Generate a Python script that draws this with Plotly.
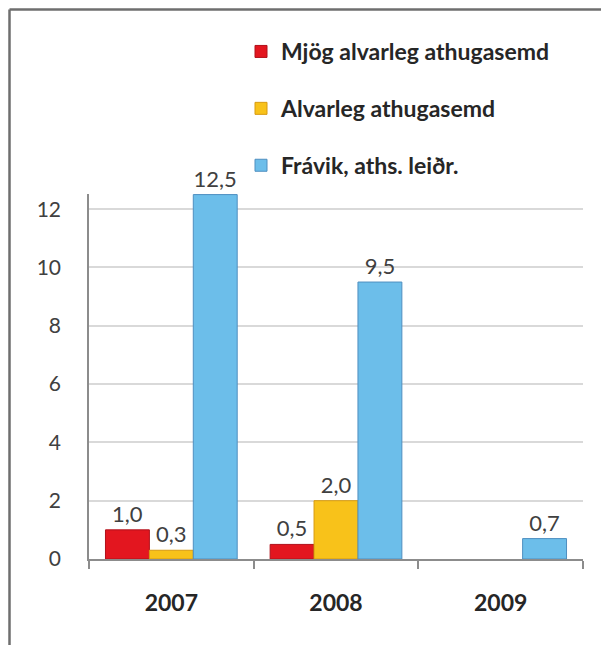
import plotly.graph_objects as go

years = ["2007", "2008", "2009"]
mjog = [1.0, 0.5, None]
alvarleg = [0.3, 2.0, None]
fravik = [12.5, 9.5, 0.7]
series_names = ["Mjög alvarleg athugasemd", "Alvarleg athugasemd", "Frávik, aths. leiðr."]
y_ticks = [0, 2, 4, 6, 8, 10, 12]

colors = ["#E3161F", "#F8C21A", "#6CBEEA"]
edges = ["#B0101A", "#D79A10", "#4F8FC0"]
FONT = "Lato"

fig = go.Figure()
for i, (name, vals) in enumerate(zip(series_names, [mjog, alvarleg, fravik])):
    fig.add_trace(go.Bar(
        x=years, y=vals, name=name, legendgroup=f"g{i}",
        marker=dict(color=colors[i], line=dict(color=edges[i], width=1)),
        text=[("" if v is None else f"{v:.1f}".replace(".", ",")) for v in vals],
        textposition="outside", cliponaxis=False,
        textfont=dict(family=FONT, size=22, color="#404040"),
    ))

# figure sits at (8,8) inside the page (body margin)
W, H = 601, 637
L, R, T, B = 81, 26, 186, 86
pw, ph = W - L - R, H - T - B

def px(xp):
    return (xp - L) / pw

def py(yp):
    return (H - B - yp) / ph

fig.update_layout(
    width=W, height=H,
    margin=dict(l=L, r=R, t=T, b=B, autoexpand=False),
    paper_bgcolor="white", plot_bgcolor="white",
    separators=", ",
    barmode="group", bargap=0.2, bargroupgap=0,
    font=dict(family=FONT, color="#404040"),
    legend=dict(
        xref="container", yref="container",
        x=233 / W, y=1 - 22 / H, xanchor="left", yanchor="top",
        font=dict(family=FONT, size=23, color="#262626", weight="bold"),
        tracegroupgap=24, itemwidth=30, bgcolor="rgba(0,0,0,0)",
    ),
    xaxis=dict(
        showgrid=False, showline=True, linecolor="#8C8C8C", linewidth=1.5,
        ticks="outside", tickson="boundaries", ticklen=8, tickcolor="#8C8C8C",
        tickwidth=1.5, ticklabelstandoff=23,
        tickfont=dict(family=FONT, size=23, color="#262626", weight="bold"),
    ),
    yaxis=dict(
        range=[0, 12.52], tickvals=y_ticks, showgrid=True, gridcolor="#D9D9D9",
        gridwidth=1.5, showline=True, linecolor="#8C8C8C", linewidth=1.5,
        zeroline=False, ticks="", ticklabelstandoff=22,
        tickfont=dict(family=FONT, size=21, color="#404040"),
    ),
    shapes=[
        dict(type="line", xref="paper", yref="paper", x0=px(1.5), x1=px(1.5),
             y0=py(1.5), y1=py(660), line=dict(color="#6E6E6E", width=2.5)),
        dict(type="line", xref="paper", yref="paper", x0=px(1.5), x1=px(620),
             y0=py(1.5), y1=py(1.5), line=dict(color="#6E6E6E", width=2.5)),
    ],
)

fig.write_html("out.html")
